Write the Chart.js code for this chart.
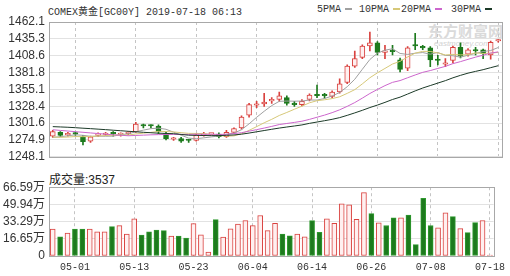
<!DOCTYPE html>
<html>
<head>
<meta charset="utf-8">
<script src="https://cdn.jsdelivr.net/npm/chart.js@4.4.0/dist/chart.umd.min.js"></script>
<style>
  body { margin: 0; background: #fff; width: 510px; height: 276px; overflow: hidden; position: relative; }
  .mono { font-family: "Liberation Mono", "Noto Sans CJK SC", monospace; font-size: 10px; color: #333; position: absolute; white-space: nowrap; }
  .lg i { display: inline-block; width: 7px; height: 2px; margin-left: 4px; vertical-align: middle; }
  #vol-label { position: absolute; left: 49px; top: 170px; font-family: "Liberation Sans", "Noto Sans CJK SC", sans-serif; font-size: 12px; color: #222; }
  #wm { position: absolute; left: 428px; top: 23px; font-family: "Noto Sans CJK SC", sans-serif; font-size: 15px; font-weight: bold; color: #dadada; line-height: 16px; }
  #wm small { display: block; font-family: "Liberation Sans", sans-serif; font-size: 8px; font-style: italic; font-weight: normal; color: #d2d2d2; line-height: 9px; padding-left: 6px; }
  canvas { position: absolute; left: 0; }
</style>
</head>
<body>
<div class="mono" style="left:48px;top:3px">COMEX黄金[GC00Y] 2019-07-18 06:13</div>
<div class="mono lg" style="left:317px;top:4px">5PMA<i style="background:#a0a0a0"></i></div>
<div class="mono lg" style="left:359px;top:4px">10PMA<i style="background:#d6c878"></i></div>
<div class="mono lg" style="left:401px;top:4px">20PMA<i style="background:#cc66cc"></i></div>
<div class="mono lg" style="left:451px;top:4px">30PMA<i style="background:#1c3a28"></i></div>
<div id="wm">东方财富网<small>eastmoney.com</small></div>
<canvas id="price" width="510" height="168" style="top:0"></canvas>
<div id="vol-label">成交量:3537</div>
<canvas id="volume" width="510" height="100" style="top:176px"></canvas>
<script>
// trading days shown on the chart
const dates = ['04-26','04-29','04-30','05-01','05-02','05-03','05-06','05-07','05-08','05-09',
  '05-10','05-13','05-14','05-15','05-16','05-17','05-20','05-21','05-22','05-23',
  '05-24','05-27','05-28','05-29','05-30','05-31','06-03','06-04','06-05','06-06',
  '06-07','06-10','06-11','06-12','06-13','06-14','06-17','06-18','06-19','06-20',
  '06-21','06-24','06-25','06-26','06-27','06-28','07-01','07-02','07-03','07-04',
  '07-05','07-08','07-09','07-10','07-11','07-12','07-15','07-16','07-17','07-18'];
const shownDates = ['05-01','05-13','05-23','06-04','06-14','06-26','07-08','07-18'];

const opens = [1281,1287,1283,1285,1280,1273,1282,1283.5,1285,1283.5,
  1285,1288,1298,1297.5,1297,1285,1276,1277,1275,1274,
  1282,1284,1284,1280,1287,1294,1314,1330,1332,1337,
  1339,1342,1332,1331,1339,1346,1346,1344,1351,1366,
  1392,1406,1424,1429,1414,1416,1402,1389,1424.5,1422,
  1421,1403,1395,1401,1422,1411,1417,1418,1410,1432];
const closes = [1288,1282,1285,1284,1272,1280,1283,1284.5,1284.5,1284,
  1286,1300,1297,1297,1288,1277,1277,1273,1274,1283,
  1284,1284.5,1280,1287,1293,1311,1331,1332,1335,1338,
  1345,1333,1331,1336,1346,1345,1345,1351,1364,1392,
  1404,1424,1429,1414,1416,1415,1387,1421,1424,1421,
  1402,1401,1397,1422,1408,1418,1416,1412,1430,1433];
const highs = [1290,1288,1287,1287,1282,1281,1286,1287,1288,1286,
  1288,1303,1300,1299,1299,1287,1279,1279,1276,1285,
  1287,1285,1286,1290,1294,1313,1333,1336,1349,1342,
  1351,1345,1336,1339,1348,1362,1349,1353,1372,1394,
  1416,1426,1446,1431,1425,1425,1405,1423,1444,1425,
  1423,1409,1404,1424,1429,1420,1422,1419,1432,1434];
const lows = [1279,1280,1281,1282,1267,1271,1280,1282,1281,1281,
  1283,1287,1294,1294,1285,1275,1274,1271,1271,1273,
  1281,1283,1278,1279,1285,1292,1311,1326,1328,1333,
  1336,1330,1328,1329,1337,1342,1341,1342,1349,1364,
  1390,1404,1416,1410,1404,1410,1383,1385,1418,1418,
  1391,1394,1391,1397,1405,1408,1410,1404,1403,1430];

// volume in 万
const volumes = [26.1,18.6,22.2,26.1,26.1,26.1,23.5,23.5,28.4,29.4,
  21.2,35.9,20.3,23.5,25.2,24.5,19.3,19.3,17.3,31.3,
  20.5,3.9,35.2,18.3,26.3,31.0,34.2,29.4,39.2,24.5,
  31.6,21.2,19.6,21.2,18.6,34.3,22.8,35.9,31.6,50.6,
  49.6,35.4,61.4,41.0,32.2,29.5,37.0,37.0,39.7,11.0,
  55.7,29.5,27.3,41.9,38.1,26.5,22.6,32.3,34.4,0.3537];

const ma5 = [1279,1280,1281.5,1283,1282.2,1280.6,1280.8,1280.7,1280.9,1283.3,
  1284.5,1287.9,1290.4,1292.8,1293.6,1291.8,1287.2,1282.4,1277.8,1276.8,
  1278.2,1279.7,1281.1,1283.7,1285.7,1291.1,1300.4,1310.8,1320.4,1329.4,
  1336.2,1336.6,1336.4,1336.6,1338.2,1338.2,1340.6,1344.6,1350.2,1359.4,
  1371.2,1387,1402.6,1412.6,1417.4,1419.6,1412.2,1410.6,1412.6,1413.6,
  1411,1413.8,1409,1408.6,1406.2,1409.4,1412.2,1415.2,1416.8,1421.6];
const ma10 = [1279.5,1279,1279.5,1280.3,1280,1280.4,1281,1281.8,1282.5,1282.8,
  1282.6,1284.4,1285.6,1286.9,1288.5,1288.2,1287.6,1286.4,1285.3,1285.2,
  1285,1283.5,1281.8,1280.8,1281.3,1284.7,1290.1,1296,1302.1,1307.6,
  1313.7,1318.5,1323.6,1328.5,1333.8,1337.2,1338.6,1340.5,1343.4,1348.8,
  1354.7,1363.8,1373.6,1381.4,1388.4,1395.4,1399.6,1406.6,1412.6,1415.5,
  1415.3,1413,1409.8,1410.6,1409.9,1410.2,1413,1412.1,1412.7,1413.9];
const ma20 = [1291,1290,1289,1288,1287,1286,1285,1284,1283,1282.3,
  1281.5,1282,1282.5,1283,1283.3,1283.6,1283.7,1283.7,1283.6,1284,
  1283.8,1283.9,1283.7,1283.8,1284.9,1286.4,1288.8,1291.2,1293.7,1296.4,
  1299.3,1301,1302.7,1304.6,1307.5,1310.9,1314.3,1318.2,1322.7,1328.2,
  1334.2,1341.2,1348.6,1355,1361.1,1366.3,1369.1,1373.6,1378,1382.2,
  1385,1388.4,1391.7,1396,1399.2,1402.8,1406.3,1409.4,1412.7,1414.7];
const ma30 = [1296,1295.5,1295,1294.3,1293.5,1292.8,1292,1291.2,1290.3,1289.5,
  1288.6,1287.8,1287,1286.3,1285.6,1285.2,1284.8,1283.6,1282.4,1282.1,
  1281.9,1281.7,1281.8,1282.2,1282.8,1284,1285.8,1287.8,1289.8,1291.8,
  1293.7,1295.4,1297,1298.7,1301.2,1303.3,1305.4,1307.6,1310.3,1313.9,
  1317.8,1321.9,1326.3,1330.2,1334.5,1339.1,1342.8,1347.7,1352.7,1357.3,
  1361.2,1365.1,1369,1373.5,1377.4,1380.9,1383.7,1386.4,1389.6,1392.7];

const priceTicks = [1248.1,1274.85,1301.6,1328.35,1355.1,1381.85,1408.6,1435.35,1462.1];
const priceTickLabels = ['1248.1','1274.9','1301.6','1328.4','1355.1','1381.8','1408.6','1435.3','1462.1'];
const volTicks = [0,16.65,33.29,49.94,66.59];
const volTickLabels = ['0','16.65万','33.29万','49.94万','66.59万'];

const UP_LINE = '#d9423f', UP_FILL = '#fff0f0', DOWN = '#1d7a1d';
const isUp = closes.map((c, i) => c >= opens[i]);
const labelFont = { family: '"Liberation Sans", "Noto Sans CJK SC", sans-serif', size: 12 };
const dateGrid = ctx => shownDates.includes(dates[ctx.index]) ? '#c4c4c4' : 'rgba(0,0,0,0)';

// grey frame around each plot area
const frame = {
  id: 'frame',
  afterDraw(chart) {
    const a = chart.chartArea, c = chart.ctx;
    c.save();
    c.strokeStyle = '#a8a8a8';
    c.lineWidth = 1;
    c.strokeRect(Math.round(a.left) + 0.5, Math.round(a.top) + 0.5, Math.round(a.right - a.left), Math.round(a.bottom - a.top));
    c.restore();
  }
};

function maLine(label, data, color) {
  return { type: 'line', label, data, borderColor: color, borderWidth: 1, pointRadius: 0, tension: 0, order: 0 };
}

new Chart(document.getElementById('price'), {
  type: 'bar',
  data: {
    labels: dates,
    datasets: [
      maLine('30PMA', ma30, '#1c3a28'),
      maLine('20PMA', ma20, '#cc66cc'),
      maLine('10PMA', ma10, '#d6c878'),
      maLine('5PMA', ma5, '#a0a0a0'),
      {
        label: 'body',
        data: opens.map((o, i) => [o, closes[i]]),
        backgroundColor: isUp.map(u => u ? UP_FILL : DOWN),
        borderColor: isUp.map(u => u ? UP_LINE : DOWN),
        borderWidth: 1, borderSkipped: false, barThickness: 5, minBarLength: 1.5,
        grouped: false, order: 1
      },
      {
        label: 'wick',
        data: lows.map((l, i) => [l, highs[i]]),
        backgroundColor: isUp.map(u => u ? UP_LINE : DOWN),
        barThickness: 1, grouped: false, order: 2
      }
    ]
  },
  options: {
    responsive: false, animation: false,
    layout: { padding: { top: 22, right: 8, bottom: 1, left: 0 } },
    plugins: { legend: { display: false }, tooltip: { enabled: false } },
    scales: {
      x: {
        offset: true,
        grid: { offset: false, color: dateGrid, drawTicks: false },
        border: { display: false, dash: [3, 3] },
        ticks: { display: false, autoSkip: false }
      },
      y: {
        min: 1248.1, max: 1462.1,
        afterBuildTicks: s => { s.ticks = priceTicks.map(v => ({ value: v })); },
        afterFit: s => { s.width = 49; },
        ticks: { autoSkip: false, callback: (v, i) => priceTickLabels[i], font: labelFont, color: '#333', padding: 4 },
        grid: { color: '#e2e2e2', drawTicks: false },
        border: { display: false }
      }
    }
  },
  plugins: [frame]
});

new Chart(document.getElementById('volume'), {
  type: 'bar',
  data: {
    labels: dates,
    datasets: [{
      label: '成交量',
      data: volumes,
      backgroundColor: isUp.map(u => u ? UP_FILL : DOWN),
      borderColor: isUp.map(u => u ? UP_LINE : '#2f9a2f'),
      borderWidth: 1, borderSkipped: false, barThickness: 5, minBarLength: 1
    }]
  },
  options: {
    responsive: false, animation: false,
    layout: { padding: { top: 11, right: 8, bottom: 0, left: 0 } },
    plugins: { legend: { display: false }, tooltip: { enabled: false } },
    scales: {
      x: {
        offset: true,
        grid: { offset: false, color: dateGrid, drawTicks: false },
        border: { display: false, dash: [3, 3] },
        afterFit: s => { s.height = 20; },
        ticks: {
          autoSkip: false, maxRotation: 0, padding: 5, color: '#333',
          font: { family: '"Liberation Mono", monospace', size: 10 },
          callback: (v, i) => shownDates.includes(dates[i]) ? dates[i] : ''
        }
      },
      y: {
        min: 0, max: 66.59,
        afterBuildTicks: s => { s.ticks = volTicks.map(v => ({ value: v })); },
        afterFit: s => { s.width = 49; },
        ticks: { autoSkip: false, callback: (v, i) => volTickLabels[i], font: labelFont, color: '#333', padding: 4 },
        grid: { color: '#e2e2e2', drawTicks: false },
        border: { display: false }
      }
    }
  },
  plugins: [frame]
});
</script>
</body>
</html>
